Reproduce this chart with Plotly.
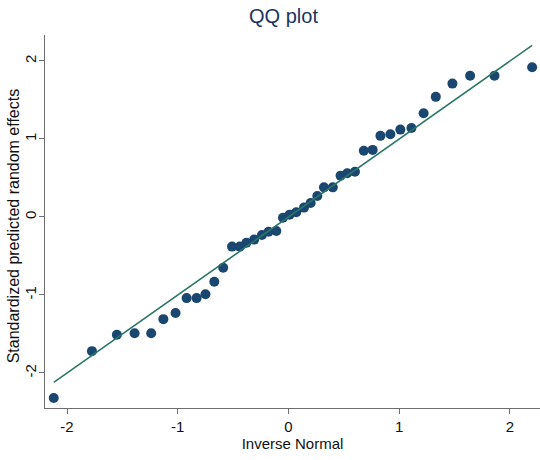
import plotly.graph_objects as go

# Inverse-normal quantiles (x) and standardized predicted random effects (y)
inv_normal = [-2.12, -1.775, -1.55, -1.39, -1.24, -1.13, -1.02, -0.92, -0.83, -0.75,
              -0.67, -0.59, -0.51, -0.44, -0.38, -0.31, -0.24, -0.18, -0.11, -0.05,
              0.01, 0.07, 0.14, 0.20, 0.26, 0.32, 0.40, 0.47, 0.53, 0.60,
              0.68, 0.76, 0.83, 0.92, 1.01, 1.11, 1.22, 1.33, 1.48, 1.64,
              1.86, 2.20]
std_effects = [-2.32, -1.72, -1.51, -1.49, -1.49, -1.31, -1.23, -1.04, -1.04, -0.99,
               -0.83, -0.65, -0.38, -0.38, -0.33, -0.29, -0.23, -0.19, -0.18, -0.01,
               0.03, 0.06, 0.12, 0.18, 0.27, 0.38, 0.38, 0.53, 0.56, 0.58,
               0.85, 0.86, 1.04, 1.06, 1.12, 1.14, 1.33, 1.54, 1.71, 1.81,
               1.81, 1.92]

x_ticks = [-2, -1, 0, 1, 2]
y_ticks = [-2, -1, 0, 1, 2]

# reference line y = x across the span of the quantiles
ref_x = [min(inv_normal), max(inv_normal)]
ref_y = list(ref_x)

fig = go.Figure()
fig.add_trace(go.Scatter(
    x=inv_normal, y=std_effects, mode="markers",
    marker=dict(color="#1a476f", size=10, line=dict(width=0)),
    showlegend=False,
))
fig.add_trace(go.Scatter(
    x=ref_x, y=ref_y, mode="lines",
    line=dict(color="#2b7667", width=1.6),
    showlegend=False,
))

FAMILY = "Liberation Sans, Arial, sans-serif"
tick_font = dict(family=FAMILY, size=15, color="#111111")

fig.update_layout(
    width=540, height=460,
    margin=dict(l=45, r=0, t=35, b=52),
    paper_bgcolor="white", plot_bgcolor="white",
    font=dict(family=FAMILY, size=15, color="#111111"),
    title=dict(
        text="QQ plot", x=0.525, xanchor="center", y=0.965, yanchor="middle",
        font=dict(family=FAMILY, size=20, color="#1a3560"),
    ),
    xaxis=dict(
        range=[-2.199, 2.271], tickvals=x_ticks, ticktext=[str(v) for v in x_ticks],
        showgrid=False, zeroline=False,
        showline=True, linecolor="#6e6e6e", linewidth=1.2,
        ticks="outside", ticklen=5, tickcolor="#6e6e6e", tickwidth=1,
        tickfont=tick_font,
        title=dict(text="Inverse Normal", font=tick_font, standoff=2),
    ),
    yaxis=dict(
        range=[-2.449, 2.333], tickvals=y_ticks, ticktext=[str(v) for v in y_ticks],
        showgrid=False, zeroline=False,
        showline=True, linecolor="#6e6e6e", linewidth=1.2,
        ticks="outside", ticklen=5, tickcolor="#6e6e6e", tickwidth=1,
        tickangle=-90, tickfont=tick_font, ticklabelstandoff=-3,
    ),
    annotations=[dict(
        text="Standardized predicted random effects",
        xref="paper", yref="paper", x=0, y=0.487,
        xanchor="center", yanchor="middle", xshift=-32,
        textangle=-90, showarrow=False,
        font=dict(family=FAMILY, size=16, color="#111111"),
    )],
)

fig.write_html("out.html")
